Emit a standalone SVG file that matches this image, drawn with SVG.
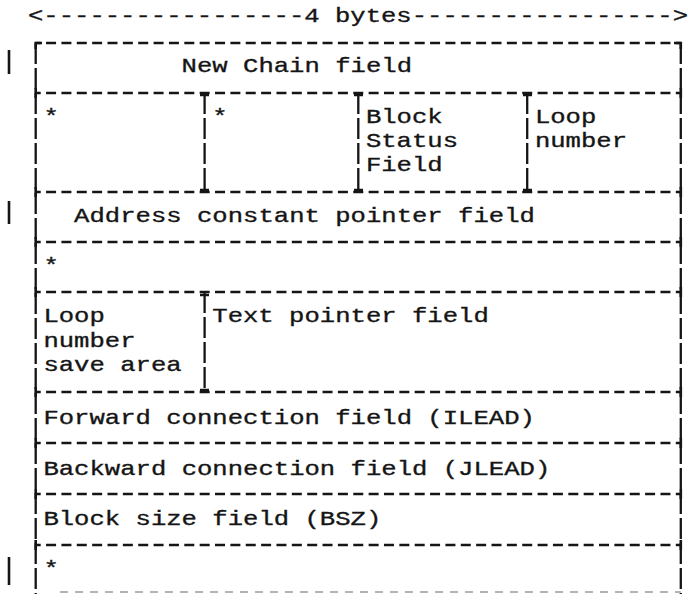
<svg xmlns="http://www.w3.org/2000/svg" width="688" height="594" viewBox="0 0 688 594">
  <style>
    .t { font-family: "Liberation Mono", "DejaVu Sans Mono", monospace; font-size: 21px; fill: #151515; stroke: #151515; stroke-width: 0.35px; }
    .h { stroke: #151515; stroke-width: 2.3; stroke-dasharray: 10 5.36; stroke-dashoffset: 5; fill: none; }
    .v { stroke: #151515; stroke-width: 2.3; stroke-dasharray: 21 4; fill: none; }
    .j { stroke: #151515; stroke-width: 2.6; fill: none; }
    .bar { stroke: #151515; stroke-width: 2.6; }
    .faint { stroke: #9a9a9a; stroke-width: 1.6; stroke-dasharray: 8 7; fill: none; }
  </style>
  <rect width="688" height="594" fill="#ffffff"/>

  <g id="width-label">
    <text class="t" x="28" y="22" textLength="660" lengthAdjust="spacingAndGlyphs">&lt;-----------------4 bytes-----------------&gt;</text>
  </g>

  <g id="change-bars">
    <line class="bar" x1="9" y1="50" x2="9" y2="74"/>
    <line class="bar" x1="9" y1="201" x2="9" y2="224"/>
    <line class="bar" x1="9" y1="557" x2="9" y2="585"/>
  </g>

  <g id="connectors">
    <line class="h" x1="35.7" y1="43" x2="680.8" y2="43"/>
    <line class="h" x1="35.7" y1="93" x2="680.8" y2="93"/>
    <line class="h" x1="35.7" y1="192" x2="680.8" y2="192"/>
    <line class="h" x1="35.7" y1="242" x2="680.8" y2="242"/>
    <line class="h" x1="35.7" y1="292" x2="680.8" y2="292"/>
    <line class="h" x1="35.7" y1="392" x2="680.8" y2="392"/>
    <line class="h" x1="35.7" y1="443" x2="680.8" y2="443"/>
    <line class="h" x1="35.7" y1="494" x2="680.8" y2="494"/>
    <line class="h" x1="35.7" y1="545" x2="680.8" y2="545"/>
    <line class="faint" x1="60" y1="592" x2="680.8" y2="592"/>
    <line class="v" x1="35.7" y1="43" x2="35.7" y2="594"/>
    <line class="v" x1="680.8" y1="43" x2="680.8" y2="594"/>
    <line class="v" x1="204.6" y1="93" x2="204.6" y2="192"/>
    <line class="v" x1="358.3" y1="93" x2="358.3" y2="192"/>
    <line class="v" x1="527.2" y1="93" x2="527.2" y2="192"/>
    <line class="v" x1="204.6" y1="292" x2="204.6" y2="392"/>
    <path class="j" d="M35.7 49 V43 H42 M674 43 H680.8 V49"/>
    <path class="j" d="M200 95 H209 M354 95 H363 M523 95 H532 M200 295 H209"/>
    <path class="j" d="M200 190 H209 M354 190 H363 M523 190 H532 M200 390 H209"/>
    <path class="j" d="M35.7 88 V98 M35.7 187 V197 M35.7 237 V247 M35.7 287 V297 M35.7 387 V397 M35.7 438 V448 M35.7 489 V499 M35.7 540 V550"/>
    <path class="j" d="M680.8 88 V98 M680.8 187 V197 M680.8 237 V247 M680.8 287 V297 M680.8 387 V397 M680.8 438 V448 M680.8 489 V499 M680.8 540 V550"/>
  </g>

  <g id="new-chain-field">
    <text class="t" x="181.6" y="72" textLength="230.4" lengthAdjust="spacingAndGlyphs">New Chain field</text>
  </g>
  <g id="reserved-1">
    <text class="t" x="43.4" y="123" textLength="15.36" lengthAdjust="spacingAndGlyphs">*</text>
  </g>
  <g id="reserved-2">
    <text class="t" x="212.3" y="123" textLength="15.36" lengthAdjust="spacingAndGlyphs">*</text>
  </g>
  <g id="block-status-field">
    <text class="t" x="365.9" y="123" textLength="76.8" lengthAdjust="spacingAndGlyphs">Block</text>
    <text class="t" x="365.9" y="147" textLength="92.16" lengthAdjust="spacingAndGlyphs">Status</text>
    <text class="t" x="365.9" y="171" textLength="76.8" lengthAdjust="spacingAndGlyphs">Field</text>
  </g>
  <g id="loop-number">
    <text class="t" x="534.9" y="123" textLength="61.44" lengthAdjust="spacingAndGlyphs">Loop</text>
    <text class="t" x="534.9" y="147" textLength="92.16" lengthAdjust="spacingAndGlyphs">number</text>
  </g>
  <g id="address-constant-pointer-field">
    <text class="t" x="74.1" y="222" textLength="460.8" lengthAdjust="spacingAndGlyphs">Address constant pointer field</text>
  </g>
  <g id="reserved-3">
    <text class="t" x="43.4" y="272" textLength="15.36" lengthAdjust="spacingAndGlyphs">*</text>
  </g>
  <g id="loop-number-save-area">
    <text class="t" x="43.4" y="322" textLength="61.44" lengthAdjust="spacingAndGlyphs">Loop</text>
    <text class="t" x="43.4" y="347" textLength="92.16" lengthAdjust="spacingAndGlyphs">number</text>
    <text class="t" x="43.4" y="371" textLength="138.24" lengthAdjust="spacingAndGlyphs">save area</text>
  </g>
  <g id="text-pointer-field">
    <text class="t" x="212.3" y="322" textLength="276.48" lengthAdjust="spacingAndGlyphs">Text pointer field</text>
  </g>
  <g id="forward-connection-field">
    <text class="t" x="43.4" y="424" textLength="491.5" lengthAdjust="spacingAndGlyphs">Forward connection field (ILEAD)</text>
  </g>
  <g id="backward-connection-field">
    <text class="t" x="43.4" y="475" textLength="506.9" lengthAdjust="spacingAndGlyphs">Backward connection field (JLEAD)</text>
  </g>
  <g id="block-size-field">
    <text class="t" x="43.4" y="525" textLength="337.9" lengthAdjust="spacingAndGlyphs">Block size field (BSZ)</text>
  </g>
  <g id="reserved-4">
    <text class="t" x="43.4" y="575" textLength="15.36" lengthAdjust="spacingAndGlyphs">*</text>
  </g>
</svg>
